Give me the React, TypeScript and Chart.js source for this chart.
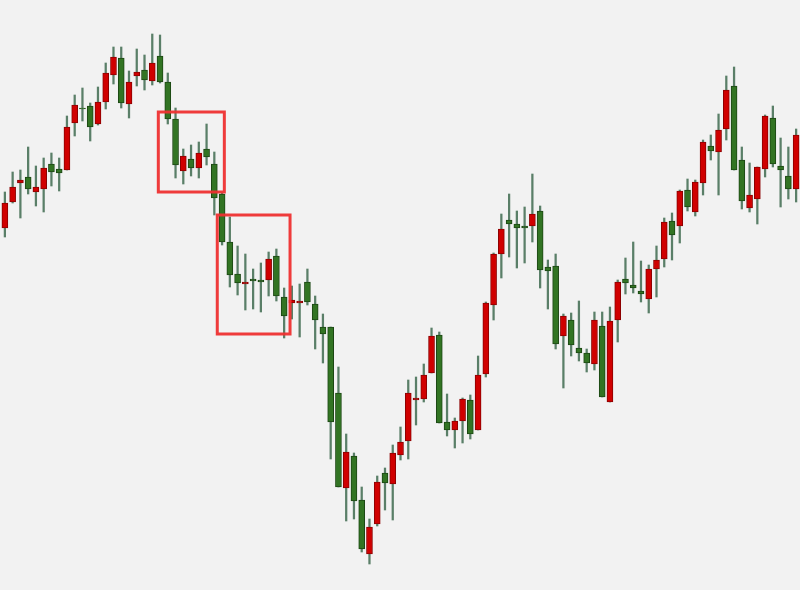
import React, { useEffect, useRef } from "react";
import { Chart, registerables } from "chart.js";

Chart.register(...registerables);

const opens = [362,388,407,413,398,401,426,421,420,467,482,484,466,488,515,532,486,514,520,509,534,508,471,419,431,422,441,426,396,348,316,306,311,310,310,334,293,287,287,308,286,263,263,197,102,134,90,36,66,117,106,135,149,190,191,217,255,168,160,169,190,160,216,285,336,370,366,364,364,379,323,324,254,270,242,237,226,264,188,270,311,305,299,291,321,331,369,364,400,378,407,444,438,461,504,430,382,391,421,472,424,414,401];
const highs = [398,418,420,443,424,432,437,432,474,495,502,487,503,527,543,543,519,541,535,556,555,517,482,441,445,448,466,438,397,373,344,336,321,327,338,341,302,304,306,321,294,276,263,223,156,137,103,71,114,122,145,163,210,213,226,262,258,196,172,192,195,234,288,337,376,396,379,383,416,384,330,336,276,277,289,241,278,278,283,310,332,348,329,325,344,372,377,400,411,410,450,455,476,514,523,443,427,423,475,484,452,443,461];
const lows = [353,387,372,396,384,378,404,399,420,454,469,449,465,481,506,482,472,504,500,505,507,466,412,406,414,412,425,375,345,303,295,280,281,278,294,289,252,271,253,285,241,227,131,103,69,71,38,26,64,80,70,130,131,165,188,217,167,154,142,147,151,160,213,270,312,333,322,327,348,302,281,241,202,234,229,218,220,193,188,248,296,297,288,277,293,323,330,347,379,374,395,430,395,450,420,381,378,366,413,423,383,391,388];
const closes = [387,403,410,401,403,422,418,417,463,485,481,463,488,517,533,487,508,518,510,527,508,471,425,434,422,437,433,392,348,315,307,308,309,308,331,294,274,290,289,288,270,256,168,103,138,89,41,63,108,107,137,148,197,192,215,254,167,160,169,191,156,215,287,336,361,366,362,362,376,320,319,246,274,245,237,227,270,193,269,308,307,302,296,321,330,368,355,399,383,408,448,439,460,500,420,389,395,423,474,426,420,401,455];

const labels = opens.map((_, i) => String(i + 1));

// highlight boxes: category index span and value span
const boxFrom = [19.78, 27.38];
const boxTo = [28.29, 36.76];
const boxTop = [478, 375];
const boxBottom = [398, 256];

const UP_FILL = "#d00000";
const UP_BORDER = "#8c0000";
const DOWN_FILL = "#327423";
const DOWN_BORDER = "#1c4714";
const WICK = "#5a7f68";

export default function App() {
  const ref = useRef<HTMLCanvasElement | null>(null);

  useEffect(() => {
    document.body.style.margin = "0";
    document.body.style.background = "#f2f2f2";
    const canvas = ref.current;
    if (!canvas) return;

    const isUp = opens.map((o, i) => closes[i] >= o);

    const boxPlugin = {
      id: "boxes",
      afterDatasetsDraw(chart: any) {
        const ctx = chart.ctx;
        const xs = chart.scales.x;
        const ys = chart.scales.y;
        ctx.save();
        ctx.strokeStyle = "rgba(238,48,48,0.95)";
        ctx.lineWidth = 3;
        for (let k = 0; k < boxFrom.length; k++) {
          const x1 = xs.getPixelForValue(boxFrom[k]);
          const x2 = xs.getPixelForValue(boxTo[k]);
          const y1 = ys.getPixelForValue(boxTop[k]);
          const y2 = ys.getPixelForValue(boxBottom[k]);
          ctx.strokeRect(x1, y1, x2 - x1, y2 - y1);
        }
        ctx.restore();
      },
    };

    const bgPlugin = {
      id: "bg",
      beforeDraw(chart: any) {
        const ctx = chart.ctx;
        ctx.save();
        ctx.fillStyle = "#f2f2f2";
        ctx.fillRect(0, 0, chart.width, chart.height);
        ctx.restore();
      },
    };

    const chart = new Chart(canvas, {
      type: "bar",
      data: {
        labels,
        datasets: [
          {
            label: "wick",
            data: lows.map((l, i) => [l, highs[i]]) as any,
            backgroundColor: WICK,
            barThickness: 1.6,
            grouped: false,
            order: 1,
          } as any,
          {
            label: "body",
            data: opens.map((o, i) => [o, closes[i]]) as any,
            backgroundColor: isUp.map((u) => (u ? UP_FILL : DOWN_FILL)),
            borderColor: isUp.map((u) => (u ? UP_BORDER : DOWN_BORDER)),
            borderWidth: 1,
            borderSkipped: false,
            barThickness: 6,
            grouped: false,
            order: 0,
          } as any,
        ],
      },
      options: {
        responsive: false,
        animation: false,
        devicePixelRatio: 1,
        layout: { padding: { left: 1, right: 0, top: 0, bottom: 0 } },
        plugins: { legend: { display: false }, tooltip: { enabled: false } },
        scales: {
          x: { type: "category", display: false, offset: true, grid: { display: false } },
          y: { type: "linear", display: false, min: 0, max: 590, grid: { display: false } },
        },
      },
      plugins: [bgPlugin, boxPlugin],
    });

    return () => chart.destroy();
  }, []);

  return (
    <div style={{ width: 800, height: 590, background: "#f2f2f2" }}>
      <canvas ref={ref} width={800} height={590} style={{ display: "block" }} />
    </div>
  );
}
